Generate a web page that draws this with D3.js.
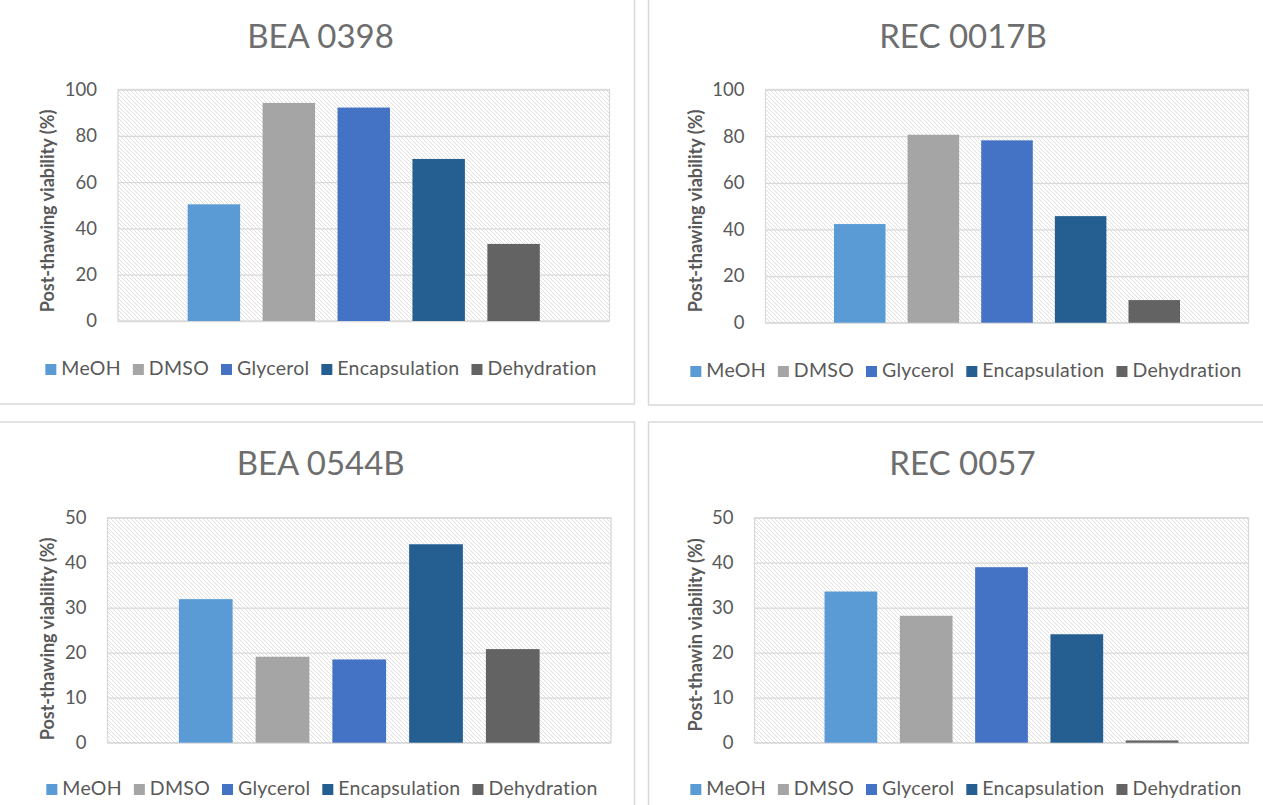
<!DOCTYPE html>
<html>
<head>
<meta charset="utf-8">
<script src="https://cdn.jsdelivr.net/npm/d3@7"></script>
<style>
  html, body { margin: 0; padding: 0; background: #ffffff; }
  svg { display: block; }
</style>
</head>
<body>
<svg id="chart" width="1263" height="805"></svg>
<script>
// ---------------- DATA ----------------
const series = ["MeOH", "DMSO", "Glycerol", "Encapsulation", "Dehydration"];
const seriesColors = ["#5B9BD5", "#A5A5A5", "#4472C4", "#255E91", "#636363"];

const titles = ["BEA 0398", "REC 0017B", "BEA 0544B", "REC 0057"];
const yLabels = [
  "Post-thawing viability (%)",
  "Post-thawing viability (%)",
  "Post-thawing viability (%)",
  "Post-thawin viability (%)"
];

const valuesBEA0398  = [50.4, 94.2, 92.2, 70.0, 33.3];
const valuesREC0017B = [42.3, 80.6, 78.2, 45.7, 9.7];
const valuesBEA0544B = [31.9, 19.1, 18.5, 44.1, 20.8];
const valuesREC0057  = [33.6, 28.2, 39.0, 24.1, 0.5];

const ticks100 = [0, 20, 40, 60, 80, 100];
const ticks50  = [0, 10, 20, 30, 40, 50];

const panelValues = [valuesBEA0398, valuesREC0017B, valuesBEA0544B, valuesREC0057];
const panelTicks  = [ticks100, ticks100, ticks50, ticks50];

// ---------------- LAYOUT ----------------
const layout = [
  { frame: [-2, -2, 634.5, 404],  plot: [118, 89.5, 609.5, 321],   title: [320.5, 48],  ylab: [47, 211], legY: 375, legX: 321 },
  { frame: [648.5, -2, 1266, 405], plot: [765.5, 89.5, 1248.5, 322.7], title: [963, 48], ylab: [695, 211], legY: 377, legX: 966 },
  { frame: [-2, 422, 634.5, 808], plot: [107.5, 517.7, 611, 742.7], title: [320.7, 475], ylab: [47, 639], legY: 795, legX: 322 },
  { frame: [648.5, 422, 1266, 808], plot: [754.5, 517.7, 1248.5, 742.7], title: [962.5, 475], ylab: [695, 635], legY: 795, legX: 966 }
];

const FONT = "Lato, 'Open Sans', sans-serif";
const svg = d3.select("#chart");

// hatch pattern
const defs = svg.append("defs");
const pat = defs.append("pattern")
  .attr("id", "hatch")
  .attr("patternUnits", "userSpaceOnUse")
  .attr("width", 4).attr("height", 4);
pat.append("rect").attr("width", 4).attr("height", 4).attr("fill", "#ffffff");
pat.append("path")
  .attr("d", "M-1,-1 L5,5 M-1,3 L1,5 M3,-1 L5,1")
  .attr("stroke", "#dcdcdc")
  .attr("stroke-width", 0.9);

layout.forEach((L, i) => {
  const g = svg.append("g");
  const [fx0, fy0, fx1, fy1] = L.frame;
  g.append("rect")
    .attr("x", fx0).attr("y", fy0)
    .attr("width", fx1 - fx0).attr("height", fy1 - fy0)
    .attr("fill", "#ffffff")
    .attr("stroke", "#d9d9d9").attr("stroke-width", 1.5);

  const [px0, py0, px1, py1] = L.plot;
  const ticks = panelTicks[i];
  const yMax = ticks[ticks.length - 1];

  const x = d3.scaleBand().domain(series).range([px0, px1])
    .paddingInner(0.3).paddingOuter(0.93);
  const y = d3.scaleLinear().domain([0, yMax]).range([py1, py0]);

  // plot background with hatch
  g.append("rect")
    .attr("x", px0).attr("y", py0)
    .attr("width", px1 - px0).attr("height", py1 - py0)
    .attr("fill", "url(#hatch)")
    .attr("stroke", "#d9d9d9").attr("stroke-width", 1.3);

  // gridlines
  const grid = g.append("g")
    .attr("transform", `translate(${px0},0)`)
    .call(d3.axisLeft(y).tickValues(ticks).tickSize(-(px1 - px0)).tickFormat(""));
  grid.select(".domain").remove();
  grid.selectAll("line").attr("stroke", "#d9d9d9").attr("stroke-width", 1.3);

  // tick labels
  const ax = g.append("g")
    .attr("transform", `translate(${px0},0)`)
    .call(d3.axisLeft(y).tickValues(ticks).tickSize(0).tickPadding(21));
  ax.select(".domain").remove();
  ax.selectAll("text")
    .attr("font-family", FONT)
    .attr("font-size", 18.5)
    .attr("fill", "#595959");

  // bars
  g.append("g").selectAll("rect")
    .data(panelValues[i])
    .join("rect")
    .attr("x", (d, k) => x(series[k]))
    .attr("width", x.bandwidth())
    .attr("y", d => y(d))
    .attr("height", d => y(0) - y(d))
    .attr("fill", (d, k) => seriesColors[k]);

  // title
  g.append("text")
    .attr("x", L.title[0]).attr("y", L.title[1])
    .attr("text-anchor", "middle")
    .attr("font-family", FONT)
    .attr("font-size", 33)
    .attr("fill", "#6e6e6e")
    .text(titles[i]);

  // y label
  g.append("text")
    .attr("transform", `translate(${L.ylab[0]},${L.ylab[1]}) rotate(-90)`)
    .attr("text-anchor", "middle")
    .attr("dominant-baseline", "central")
    .attr("font-family", FONT)
    .attr("font-weight", "bold")
    .attr("font-size", 18)
    .attr("fill", "#595959")
    .text(yLabels[i]);

  // legend
  const leg = g.append("g");
  const items = leg.selectAll("g").data(series).join("g");
  items.append("rect")
    .attr("width", 11).attr("height", 11)
    .attr("y", L.legY - 11)
    .attr("fill", (d, k) => seriesColors[k]);
  items.append("text")
    .attr("x", 16).attr("y", L.legY)
    .attr("font-family", FONT)
    .attr("font-size", 19.5)
    .attr("letter-spacing", 0.25)
    .attr("fill", "#595959")
    .text(d => d);
  let cx = 0;
  const offsets = [];
  items.each(function() {
    const w = d3.select(this).select("text").node().getComputedTextLength();
    offsets.push(cx);
    cx += 16 + w + 12;
  });
  const total = cx - 12;
  const start = L.legX - total / 2;
  items.attr("transform", (d, k) => `translate(${start + offsets[k]},0)`);
});
</script>
</body>
</html>
